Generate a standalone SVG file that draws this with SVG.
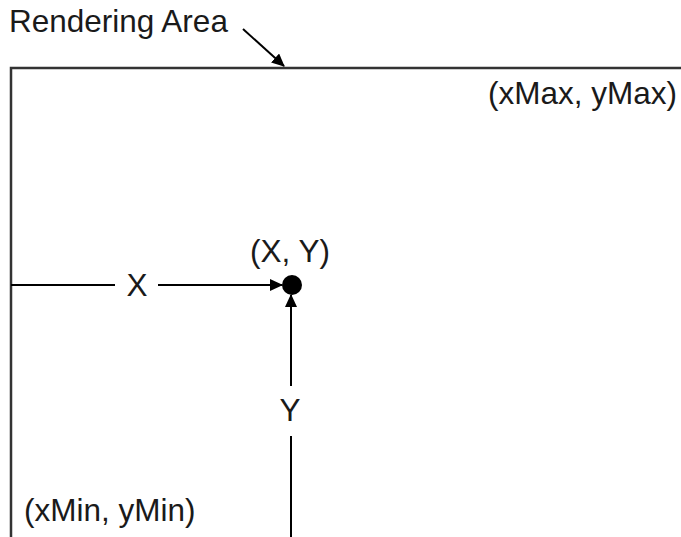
<svg xmlns="http://www.w3.org/2000/svg" width="681" height="537" viewBox="0 0 681 537">
<style>
text{font-family:"Liberation Sans",Arial,sans-serif;font-size:31.5px;fill:#1a1a1a}
.ln{stroke:#000;stroke-width:2;fill:none}
</style>
<defs>
<marker id="ah" markerWidth="13" markerHeight="12" refX="12" refY="6" orient="auto" markerUnits="userSpaceOnUse" viewBox="0 0 13 12">
<path d="M0,0 L13,6 L0,12 Z" fill="#000"/>
</marker>
</defs>
<rect width="681" height="537" fill="#fff"/>
<g id="area">
<rect x="11" y="68" width="680" height="480" fill="none" stroke="#333" stroke-width="2.5"/>
</g>
<g id="labels">
<text x="9" y="32">Rendering Area</text>
<text x="677" y="104" text-anchor="end">(xMax, yMax)</text>
<text x="24" y="521">(xMin, yMin)</text>
<text x="290" y="262" text-anchor="middle">(X, Y)</text>
<text x="137" y="296" text-anchor="middle">X</text>
<text x="290" y="421" text-anchor="middle">Y</text>
</g>
<g id="point"><circle cx="292" cy="285" r="10" fill="#000"/></g>
<g id="connectors">
<path class="ln" d="M243,29 L284,66" marker-end="url(#ah)"/>
<path class="ln" d="M11,285 L115,285"/>
<path class="ln" d="M158,285 L282,285" marker-end="url(#ah)"/>
<path class="ln" d="M291,386 L291,295" marker-end="url(#ah)"/>
<path class="ln" d="M291,436 L291,537"/>
</g>
</svg>
